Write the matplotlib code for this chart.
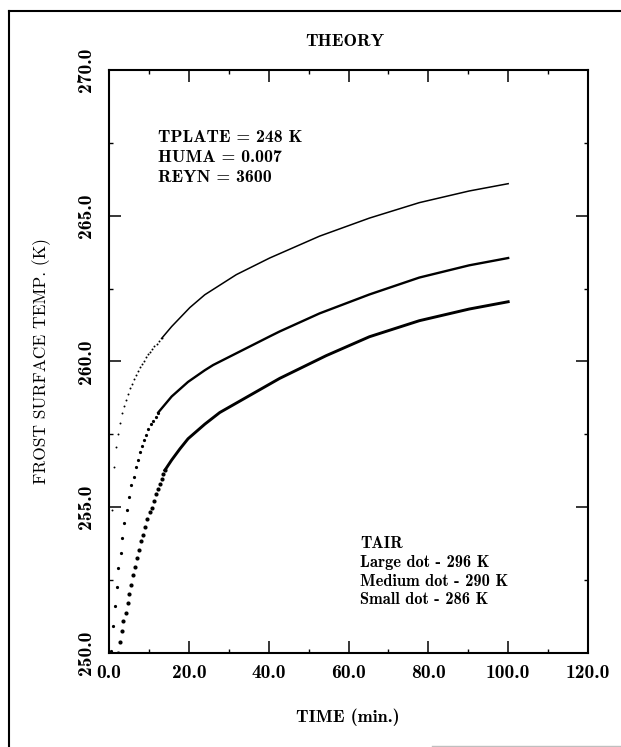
import matplotlib
matplotlib.use("Agg")
import matplotlib.pyplot as plt
from matplotlib.lines import Line2D
from matplotlib.ticker import MultipleLocator, FormatStrFormatter

# readings from the scanned figure: early times are separate dots,
# later parts of each curve are dense enough to look like a line
# top curve (small dots)
t_small_dots = [0.83, 1.25, 1.75, 2.17, 2.75, 3.17, 3.67, 4.25, 4.67, 5.25, 5.67, 6.17,
                6.67, 7.17, 7.75, 8.17, 8.75, 9.25, 9.75, 10.33, 10.83, 11.33, 11.92, 12.5, 13.17]
T_small_dots = [254.90, 256.39, 257.06, 257.53, 257.90, 258.23, 258.48, 258.69, 258.89, 259.09,
                259.24, 259.39, 259.53, 259.67, 259.80, 259.92, 260.03, 260.15, 260.25, 260.34,
                260.44, 260.52, 260.60, 260.69, 260.79]
t_small_line = [13.17, 15.7, 20.25, 24.0, 31.9, 40.25, 42.75, 52.75, 65.25, 77.75, 90.25, 100.0]
T_small_line = [260.79, 261.2, 261.85, 262.29, 262.98, 263.55, 263.7, 264.3, 264.92, 265.45, 265.85, 266.1]

# middle curve (medium dots)
t_med_dots = [0.5, 1.08, 1.5, 2.0, 2.33, 2.92, 3.33, 3.83, 4.42, 5.0, 5.5, 6.17, 6.67, 7.17,
              7.75, 8.17, 8.75, 9.25, 9.83, 10.5, 11.08, 11.7, 12.33]
T_med_dots = [250.08, 250.92, 251.62, 252.26, 252.90, 253.42, 253.94, 254.47, 254.90, 255.36,
              255.78, 256.04, 256.39, 256.62, 256.91, 257.09, 257.32, 257.49, 257.67, 257.84,
              257.96, 258.1, 258.25]
t_med_line = [12.33, 15.7, 19.8, 24.0, 26.1, 40.25, 42.75, 52.75, 65.25, 77.75, 90.25, 100.0]
T_med_line = [258.25, 258.8, 259.3, 259.7, 259.88, 260.86, 261.03, 261.65, 262.3, 262.88, 263.3, 263.55]

# bottom curve (large dots)
t_large_dots = [2.33, 2.67, 3.17, 3.58, 4.17, 4.67, 5.08, 5.5, 6.08, 6.5, 7.0, 7.5, 8.0, 8.58,
                9.0, 9.58, 10.25, 10.67, 11.33, 11.67, 12.17, 12.75, 13.17, 13.58, 14.0]
T_large_dots = [250.01, 250.39, 250.74, 251.09, 251.38, 251.73, 252.02, 252.34, 252.66, 252.96,
                253.25, 253.54, 253.83, 254.06, 254.32, 254.58, 254.82, 254.99, 255.23, 255.46,
                255.63, 255.80, 255.98, 256.15, 256.27]
t_large_line = [14.0, 15.7, 17.75, 19.8, 24.0, 27.75, 42.75, 54.4, 65.25, 77.75, 90.25, 100.0]
T_large_line = [256.27, 256.62, 257.0, 257.35, 257.85, 258.25, 259.42, 260.2, 260.85, 261.4, 261.8, 262.05]

params_text = ["TPLATE = 248 K", "HUMA = 0.007", "REYN = 3600"]
tair_text = ["TAIR", "Large dot - 296 K", "Medium dot - 290 K", "Small dot - 286 K"]

BOLD = ["cmb10", "DejaVu Serif"]
ROMAN = ["cmr10", "DejaVu Serif"]
W, H = 621, 747

fig = plt.figure(figsize=(6.21, 7.47), dpi=100)
ax = fig.add_axes([109 / W, 1 - 653 / H, (588 - 109) / W, (653 - 70) / H])

# curves
ax.plot(t_small_dots, T_small_dots, ls="none", marker="o", ms=1.4, color="k", mew=0)
ax.plot(t_small_line, T_small_line, color="k", lw=1.1)
ax.plot(t_med_dots, T_med_dots, ls="none", marker="o", ms=2.3, color="k", mew=0)
ax.plot(t_med_line, T_med_line, color="k", lw=1.7)
ax.plot(t_large_dots, T_large_dots, ls="none", marker="o", ms=3.0, color="k", mew=0)
ax.plot(t_large_line, T_large_line, color="k", lw=2.1)

ax.set_xlim(0, 120)
ax.set_ylim(250, 270)
ax.xaxis.set_major_locator(MultipleLocator(20))
ax.xaxis.set_minor_locator(MultipleLocator(10))
ax.yaxis.set_major_locator(MultipleLocator(5))
ax.yaxis.set_minor_locator(MultipleLocator(2.5))
ax.xaxis.set_major_formatter(FormatStrFormatter("%.1f"))
ax.yaxis.set_major_formatter(FormatStrFormatter("%.1f"))

ax.tick_params(which="both", direction="in", top=True, right=True)
ax.tick_params(which="major", length=8.5, width=1.1)
ax.tick_params(which="minor", length=3, width=1.0)
ax.tick_params(axis="x", which="major", pad=8)
ax.tick_params(axis="y", which="major", pad=10)
for sp in ax.spines.values():
    sp.set_linewidth(1.5)

for lab in ax.get_xticklabels():
    lab.set_family(BOLD)
    lab.set_fontsize(14)
for lab in ax.get_yticklabels():
    lab.set_family(BOLD)
    lab.set_fontsize(14)
    lab.set_rotation(90)
    lab.set_va("center")

# text blocks
fig.text(345 / W, 1 - 42 / H, "THEORY", ha="center", va="center", family=BOLD, fontsize=13)
fig.text(348 / W, 1 - 717 / H, "TIME (min.)", ha="center", va="center", family=BOLD, fontsize=13)
fig.text(42 / W, 1 - 361 / H, "FROST SURFACE TEMP. (K)", ha="center", va="center",
         rotation=90, family=ROMAN, fontsize=12.5)

for i, s in enumerate(params_text):
    fig.text(158 / W, 1 - (138 + 20 * i) / H, s, ha="left", va="center", family=BOLD, fontsize=12.8)
for i, s in enumerate(tair_text):
    fig.text(360 / W, 1 - (543 + 19 * i) / H, s, ha="left", va="center", family=BOLD, fontsize=11.8)

# scanned page border
fig.add_artist(Line2D([9 / W, 9 / W], [0, 1 - 11 / H], transform=fig.transFigure, color="k", lw=1.5))
fig.add_artist(Line2D([9 / W, 1], [1 - 11 / H, 1 - 11 / H], transform=fig.transFigure, color="k", lw=1.5))
fig.add_artist(Line2D([432 / W, 1], [1.5 / H, 1.5 / H], transform=fig.transFigure, color="0.75", lw=1))

fig.savefig("out.png", dpi=100)
